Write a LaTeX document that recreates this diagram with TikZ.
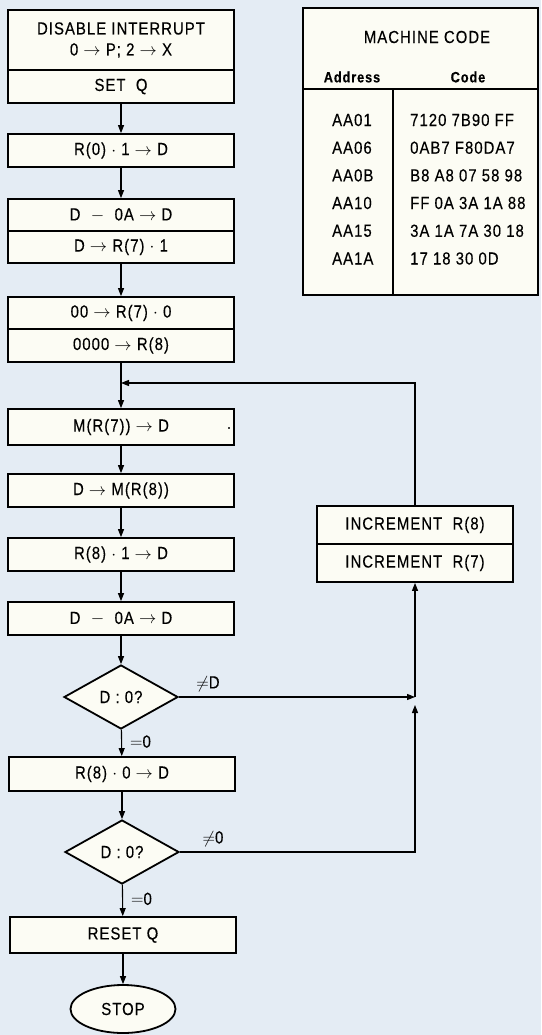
\documentclass[tikz,border=0pt]{standalone}
\usepackage{fontspec}
\setmainfont[FakeStretch=0.85,LetterSpace=6,FakeBold=0.3]{Liberation Sans}
\usetikzlibrary{arrows.meta,shapes.geometric}
\definecolor{bg}{RGB}{228,236,244}
\definecolor{boxfill}{RGB}{252,252,244}
\newcommand{\ar}{\ensuremath{\rightarrow}}
\begin{document}
\begin{tikzpicture}[x=1pt,y=-1pt,
  txt/.style={font=\fontsize{17.5}{21}\selectfont},
  box/.style={draw=black,line width=1.8pt,fill=boxfill,minimum width=226pt,minimum height=#1,inner sep=0pt,align=center,txt},
  box/.default=33pt,
  incbox/.style={box=38pt,minimum width=196pt},
  dec/.style={diamond,draw=black,line width=1.8pt,fill=boxfill,minimum width=114pt,minimum height=64pt,inner sep=0pt,aspect=1.78,txt},
  term/.style={ellipse,draw=black,line width=1.8pt,fill=boxfill,minimum width=105pt,minimum height=48pt,inner sep=0pt,txt},
  flow/.style={line width=1.1pt,-{Triangle[length=8pt,width=6pt]}},
  lbl/.style={txt,inner sep=0pt},
  tb/.style={font=\fontsize{17.5}{21}\selectfont,inner sep=0pt},
  tbh/.style={font=\bfseries\fontsize{15}{18}\selectfont,inner sep=0pt},
  tbl/.style={tb,anchor=west}
]
\useasboundingbox (0,0) rectangle (541,1035);
\fill[bg] (0,0) rectangle (541,1035);

% flowchart boxes
\node[box=60pt] (b1a) at (121,40) {DISABLE INTERRUPT\\0 \ar\ P; 2 \ar\ X};
\node[box=33pt] (b1b) at (121,86.5) {SET\ \ Q};
\node[box] (b2) at (121,150.5) {R(0) $\cdot$ 1 \ar\ D};
\node[box=32pt] (b3a) at (121,215) {D\ \ $-$\ \ 0A \ar\ D};
\node[box=32pt] (b3b) at (121,247) {D \ar\ R(7) $\cdot$ 1};
\node[box=32pt] (b4a) at (121,313) {00 \ar\ R(7) $\cdot$ 0};
\node[box=33pt] (b4b) at (121,345.5) {0000 \ar\ R(8)};
\coordinate (join) at (121,383);
\node[box=36pt] (b5) at (121,427) {M(R(7)) \ar\ D};
\node[lbl] (dot) at (229,428) {.};
\node[box] (b6) at (121,490.5) {D \ar\ M(R(8))};
\node[box] (b7) at (121,554.5) {R(8) $\cdot$ 1 \ar\ D};
\node[box] (b8) at (121,618.5) {D\ \ $-$\ \ 0A \ar\ D};
\node[dec] (d1) at (121,697) {D : 0?};
\node[box=34pt] (b9) at (122,774) {R(8) $\cdot$ 0 \ar\ D};
\node[dec] (d2) at (122,852) {D : 0?};
\node[box=36pt] (b10) at (123,935) {RESET Q};
\node[term] (stop) at (123,1009) {STOP};

% increment box
\node[incbox] (inca) at (415,525) {INCREMENT\ \ R(8)};
\node[incbox] (incb) at (415,563) {INCREMENT\ \ R(7)};

% right-hand junctions
\coordinate (top) at (415,383);
\coordinate (j1) at (415,697);
\coordinate (j1b) at (415,705);
\coordinate (j2) at (415,852);

% connectors
\draw[flow] (b1b) -- (b2);
\draw[flow] (b2) -- (b3a);
\draw[flow] (b3b) -- (b4a);
\draw[flow] (b4b) -- (b5);
\draw[flow] (inca.north) -- (top) -- (join);
\draw[flow] (b5) -- (b6);
\draw[flow] (b6) -- (b7);
\draw[flow] (b7) -- (b8);
\draw[flow] (b8) -- (d1);
\draw[flow] (d1) -- node[lbl,right=8pt,pos=0.45] {$=$0} (b9);
\draw[flow] (d1.east) -- (j1);
\node[lbl] (ne1) at (208,684) {$\neq$D};
\draw[flow] (b9) -- (d2);
\draw[flow] (d2) -- node[lbl,right=8pt,pos=0.45] {$=$0} (b10);
\draw[flow] (b10) -- (stop);
\draw[flow] (d2.east) -- (j2) -- (j1b);
\node[lbl] (ne2) at (213,839) {$\neq$0};
\draw[flow] (j1) -- (incb.south);

% machine code table
\draw[line width=1.8pt,fill=boxfill] (303,8) rectangle (538,295);
\coordinate (hl) at (303,89);
\coordinate (hr) at (538,89);
\draw[line width=1.8pt] (hl) -- (hr);
\coordinate (vt) at (393,89);
\coordinate (vb) at (393,295);
\draw[line width=2.2pt] (vt) -- (vb);
\node[tb] (title) at (427,37) {MACHINE CODE};
\node[tbh] (hadr) at (352,77) {Address};
\node[tbh] (hcode) at (468,77) {Code};
\node[tbl] (a1) at (332,120) {AA01};
\node[tbl] (a2) at (332,147.7) {AA06};
\node[tbl] (a3) at (332,175.4) {AA0B};
\node[tbl] (a4) at (332,203) {AA10};
\node[tbl] (a5) at (332,230.8) {AA15};
\node[tbl] (a6) at (332,258.5) {AA1A};
\node[tbl] (c1) at (410,120) {7120 7B90 FF};
\node[tbl] (c2) at (410,147.7) {0AB7 F80DA7};
\node[tbl] (c3) at (410,175.4) {B8 A8 07 58 98};
\node[tbl] (c4) at (410,203) {FF 0A 3A 1A 88};
\node[tbl] (c5) at (410,230.8) {3A 1A 7A 30 18};
\node[tbl] (c6) at (410,258.5) {17 18 30 0D};
\end{tikzpicture}
\end{document}
